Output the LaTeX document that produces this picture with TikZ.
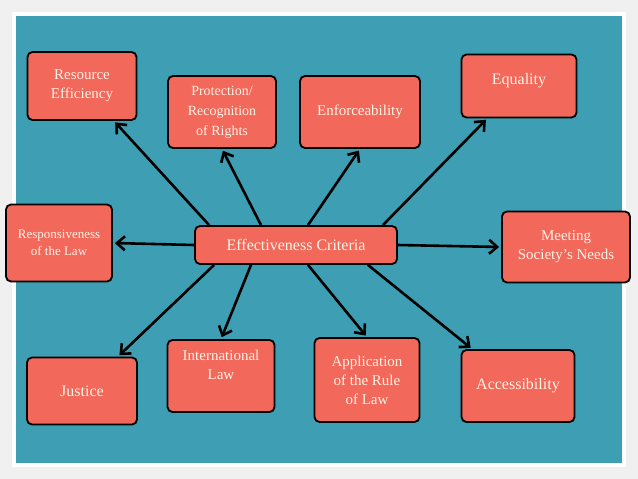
\documentclass[tikz,border=0pt]{standalone}
\usepackage{fontspec}
\setmainfont{Liberation Serif}
\usetikzlibrary{arrows.meta}
\definecolor{teal}{HTML}{3E9EB3}
\definecolor{sal}{HTML}{F2685A}
\definecolor{txt}{HTML}{FFF3E6}
\tikzset{box/.style={draw=black,line width=1.8pt,fill=sal,rounded corners=5pt,text=txt,align=center,font=\fontsize{15}{19}\selectfont,inner sep=2pt},
arr/.style={line width=2.6pt,-{Straight Barb[length=8pt,width=14pt]},shorten >=2pt}}
\begin{document}
\begin{tikzpicture}[x=1pt,y=-1pt]
\useasboundingbox (0,0) rectangle (638,479);
\fill[gray!12] (0,0) rectangle (638,479);
\fill[white] (12,12) rectangle (626,467);
\fill[teal] (16,16) rectangle (622,463);
\node[box,minimum width=202,minimum height=38,font=\fontsize{16}{18}\selectfont] (c) at (296,245) {Effectiveness Criteria};
\node[box,minimum width=109,minimum height=68] (re) at (82,86) {Resource\\Efficiency};
\node[box,minimum width=108,minimum height=72,font=\fontsize{14}{20}\selectfont] (pr) at (222,112) {Protection/\\Recognition\\of Rights};
\node[box,minimum width=120,minimum height=72] (en) at (360,112) {Enforceability};
\node[box,minimum width=115,minimum height=63,font=\fontsize{16}{18}\selectfont] (eq) at (519,86) {Equality\\[-4pt]\mbox{}};
\node[box,minimum width=106,minimum height=77,font=\fontsize{13}{17}\selectfont] (rs) at (59,243) {Responsiveness\\of the Law};
\node[box,minimum width=128,minimum height=71,font=\fontsize{15}{19}\selectfont] (me) at (566,247) {Meeting\\Society’s Needs};
\node[box,minimum width=110,minimum height=67,font=\fontsize{16}{18}\selectfont] (ju) at (82,391) {\mbox{}\\[-6pt]Justice};
\node[box,minimum width=107,minimum height=72,font=\fontsize{15}{19}\selectfont] (in) at (221,376) {International\\Law\\[4pt]\mbox{}};
\node[box,minimum width=105,minimum height=84,font=\fontsize{15}{19}\selectfont] (ap) at (367,380) {Application\\of the Rule\\of Law};
\node[box,minimum width=113,minimum height=72,font=\fontsize{16}{18}\selectfont] (ac) at (518,386) {Accessibility};
\draw[arr] (c.north west) ++(15,0) -- (re);
\draw[arr] (c.north) ++(-35,0) -- (pr.south);
\draw[arr] (c.north) ++(12,0) -- (en.south);
\draw[arr] (c.north east) ++(-15,0) -- (eq);
\draw[arr] (c.west) -- (rs.east);
\draw[arr] (c.east) -- (me.west);
\draw[arr] (c.south west) ++(20,0) -- (ju);
\draw[arr] (c.south) ++(-45,0) -- (in.north);
\draw[arr] (c.south) ++(12,0) -- (ap.north);
\draw[arr] (c.south east) ++(-30,0) -- (ac);
\end{tikzpicture}
\end{document}
